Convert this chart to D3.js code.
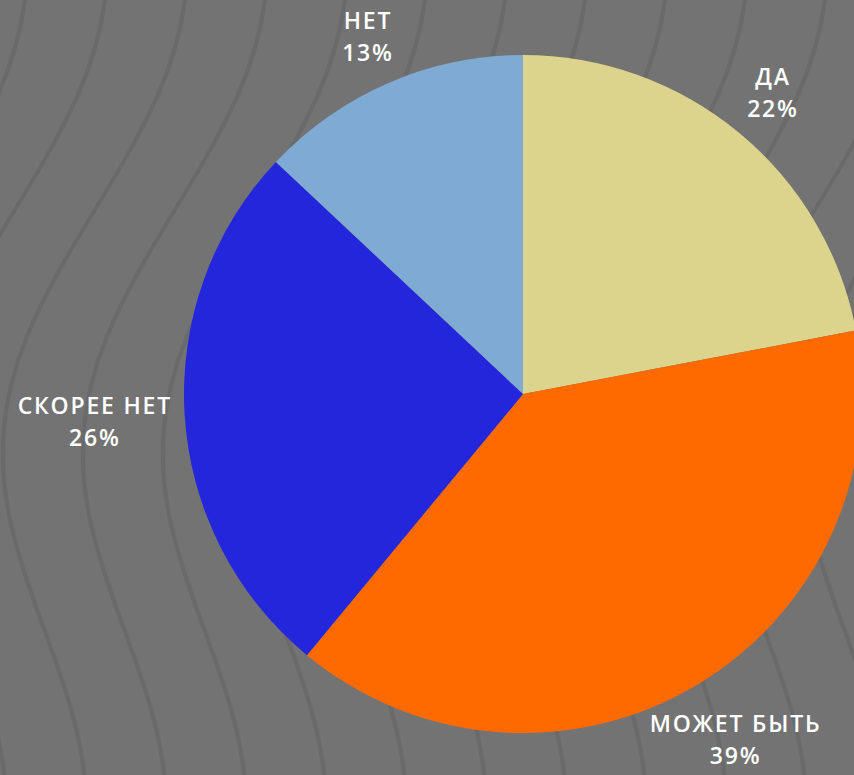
<!DOCTYPE html>
<html>
<head>
<meta charset="utf-8">
<script src="https://cdn.jsdelivr.net/npm/d3@7"></script>
<style>
  html, body { margin: 0; padding: 0; background: #737373; }
  svg { display: block; }
</style>
</head>
<body>
<svg id="chart" width="854" height="775"></svg>
<script>
var categories = ["ДА", "МОЖЕТ БЫТЬ", "СКОРЕЕ НЕТ", "НЕТ"],
    values = [22, 39, 26, 13],
    colors = ["#dcd38c", "#ff6a00", "#2326db", "#7eaad3"];

var width = 854, height = 775,
    center = {x: 523, y: 394},
    radius = 339;

var svg = d3.select("#chart");

// background texture: soft wavy strokes
var bg = svg.append("g").attr("class", "texture");
var waveLine = d3.line().curve(d3.curveBasis);
d3.range(-4, 14).forEach(function(i) {
  var x0 = i * 80 + 40;
  var pts = d3.range(-40, height + 60, 20).map(function(y) {
    return [x0 + 65 * Math.cos(Math.PI * y / 420) - 0.12 * y, y];
  });
  bg.append("path")
    .attr("d", waveLine(pts))
    .attr("fill", "none")
    .attr("stroke", "#6a6a6a")
    .attr("stroke-width", 4);
});

var pie = d3.pie().sort(null).value(function(d) { return d; });
var arc = d3.arc().innerRadius(0).outerRadius(radius);
var arcs = pie(values);

var g = svg.append("g").attr("transform", "translate(" + center.x + "," + center.y + ")");

g.selectAll(".slice").data(arcs).enter().append("path")
  .attr("class", "slice")
  .attr("d", arc)
  .attr("fill", function(d, i) { return colors[i]; });

// labels outside the slices
var labels = g.selectAll(".label").data(arcs).enter().append("text")
  .attr("class", "label")
  .attr("fill", "#ffffff")
  .attr("font-family", "'Open Sans', sans-serif")
  .attr("font-weight", 600)
  .attr("font-size", 23)
  .attr("letter-spacing", 1.8)
  .attr("text-anchor", "middle");

labels.append("tspan").attr("x", 0).attr("dy", -16).text(function(d, i) { return categories[i]; });
labels.append("tspan").attr("x", 0).attr("dy", 32).text(function(d) { return d.value + "%"; });

labels.each(function(d) {
  var box = this.getBBox();
  var hw = box.width / 2, hh = box.height / 2;
  var cy0 = box.y + hh;
  var a = (d.startAngle + d.endAngle) / 2;
  var ux = Math.sin(a), uy = -Math.cos(a);
  var target = radius + 12;
  var lo = 0, hi = radius * 2;
  for (var k = 0; k < 40; k++) {
    var m = (lo + hi) / 2;
    var nx = Math.max(0, Math.abs(ux * m) - hw), ny = Math.max(0, Math.abs(uy * m) - hh);
    if (Math.sqrt(nx * nx + ny * ny) < target) lo = m; else hi = m;
  }
  var tx = ux * lo, ty = uy * lo;
  // keep the label inside the picture
  ty = Math.min(ty, height - center.y - hh - 4);
  d3.select(this).attr("transform", "translate(" + tx + "," + (ty - cy0) + ")");
});
</script>
</body>
</html>
